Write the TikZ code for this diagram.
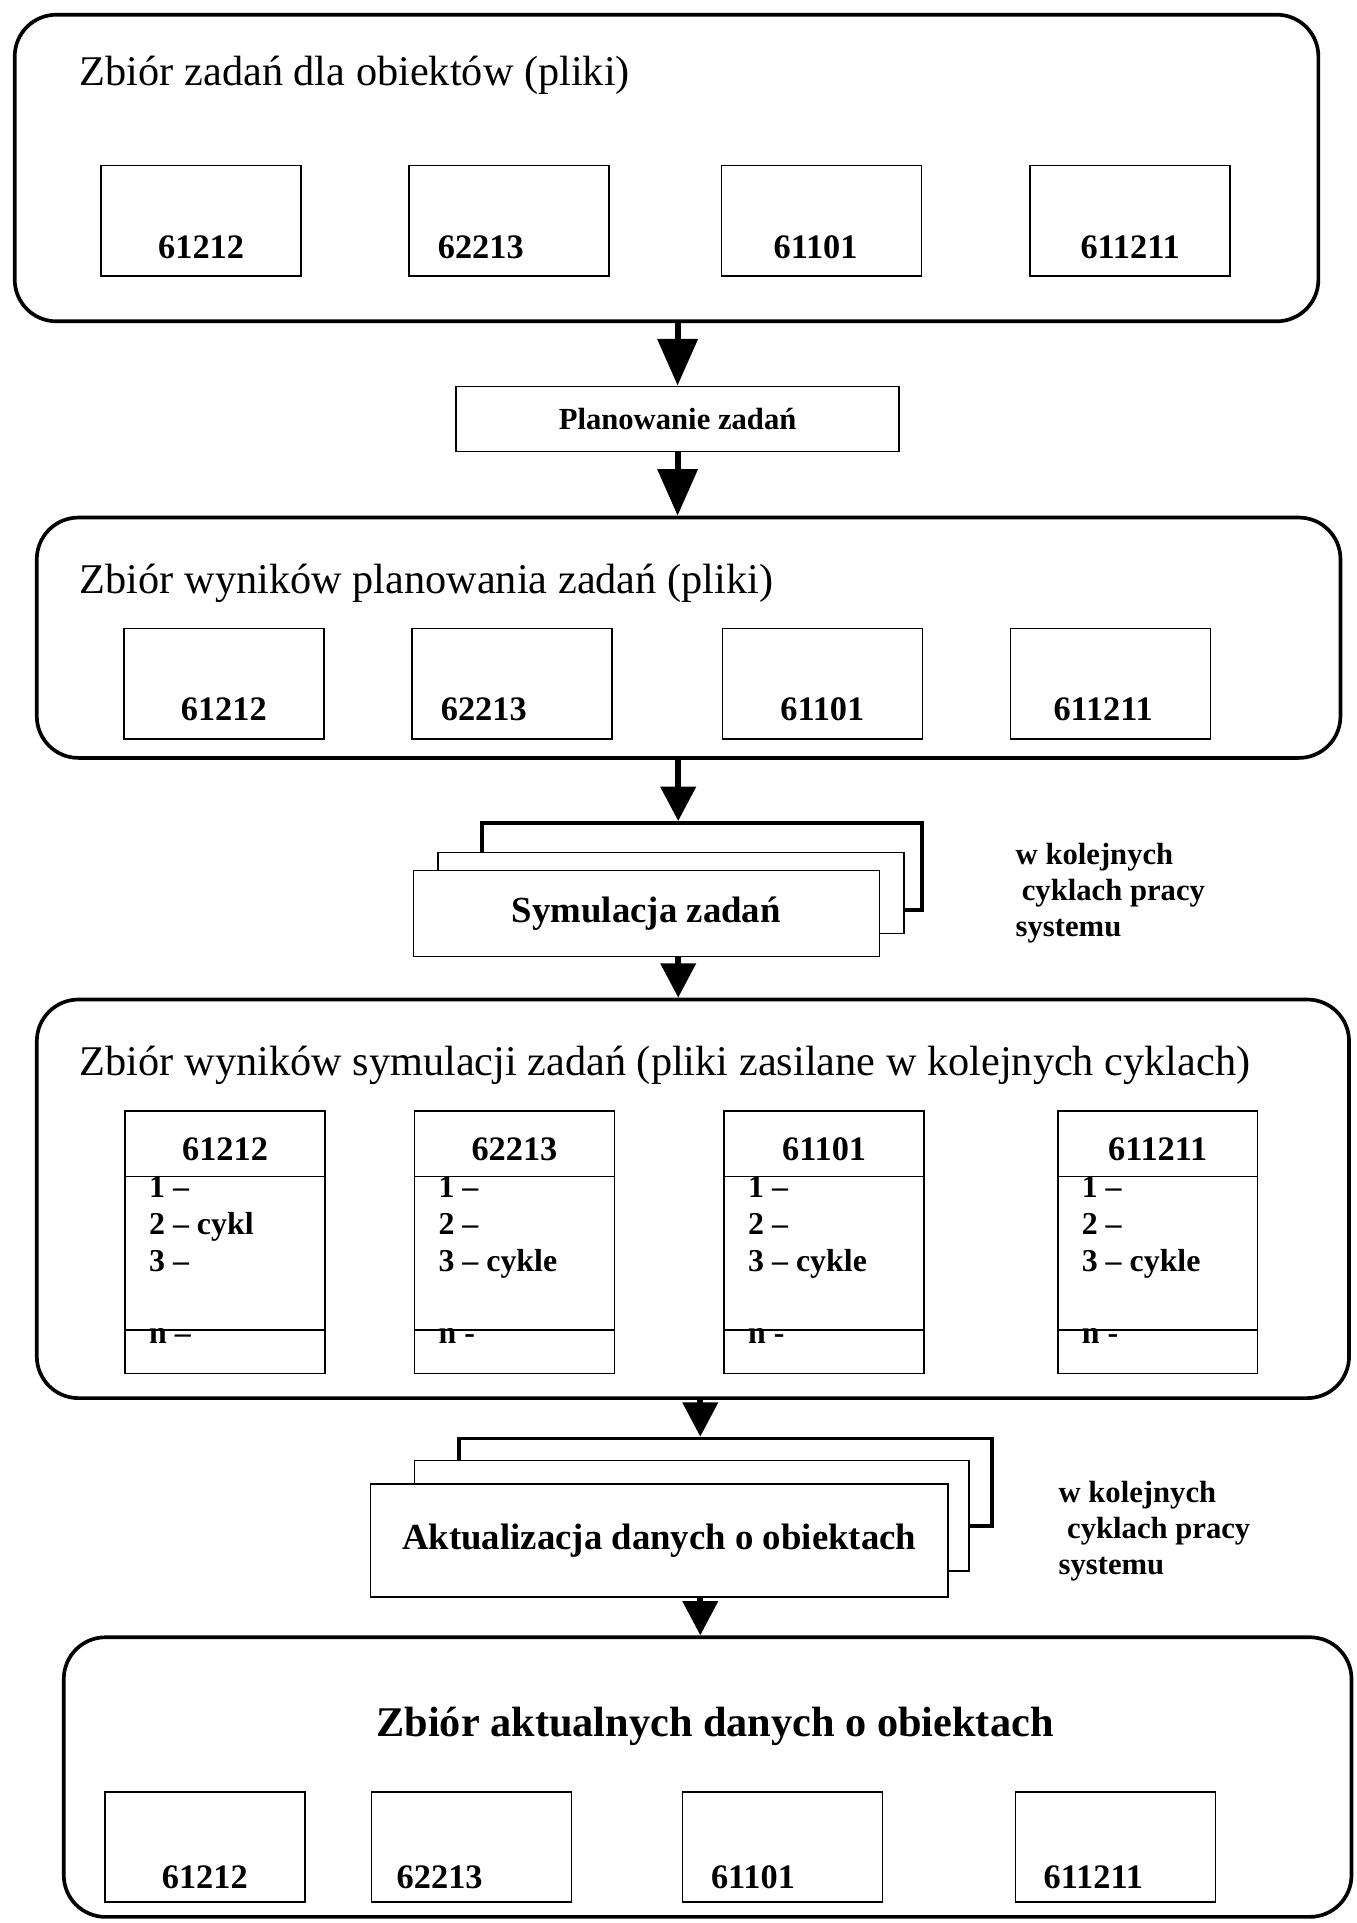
\documentclass[tikz,border=0pt]{standalone}
\usepackage{fontspec}
\setmainfont{Liberation Serif}
\usetikzlibrary{arrows.meta}

\begin{document}
\begin{tikzpicture}[
    x=1pt, y=-1pt,
    zbior/.style={
        rectangle,
        rounded corners=34pt,
        draw,
        line width=3pt,
        inner sep=0pt
    },
    plik/.style={
        rectangle,
        draw,
        line width=1.2pt,
        minimum width=163pt,
        minimum height=90pt,
        inner sep=0pt
    },
    karta/.style={
        rectangle,
        draw,
        line width=1.2pt,
        minimum width=163pt,
        minimum height=214pt,
        inner sep=0pt
    },
    etap/.style={
        rectangle,
        draw,
        line width=1.2pt,
        fill=white,
        inner sep=0pt
    },
    warstwa/.style={
        rectangle,
        draw,
        line width=3pt,
        fill=white,
        inner sep=0pt
    },
    numer/.style={font=\fontsize{28}{30}\selectfont\bfseries, inner sep=0pt, anchor=base},
    tytul/.style={font=\fontsize{34.5}{40}\selectfont, inner sep=0pt, anchor=base west},
    wiersze/.style={font=\fontsize{26}{30}\selectfont\bfseries, inner sep=0pt, anchor=base west, align=left},
    opis/.style={font=\fontsize{25}{29.5}\selectfont\bfseries, inner sep=0pt, anchor=base west, align=left},
    strzalka/.style={-{Triangle[width=32pt,length=38pt]}, line width=5pt},
    strzalkaMala/.style={-{Triangle[width=28pt,length=28pt]}, line width=5pt}
]
\useasboundingbox (0,0) rectangle (1106,1568);

% zbior zadan
\node[zbior, minimum width=1063pt, minimum height=250pt] (zad) at (543.5,137) {};
\node[tytul] (zadT) at (65,70) {Zbiór zadań dla obiektów (pliki)};
\node[plik] (z1) at (164,180) {};
\node[plik] (z2) at (415,180) {};
\node[plik] (z3) at (670,180) {};
\node[plik] (z4) at (921.5,180) {};
\node[numer] (z1n) at ([yshift=15pt]z1.south) {61212};
\node[numer] (z2n) at ([xshift=-23pt,yshift=15pt]z2.south) {62213};
\node[numer] (z3n) at ([xshift=-5pt,yshift=15pt]z3.south) {61101};
\node[numer] (z4n) at ([yshift=15pt]z4.south) {611211};

% planowanie
\node[etap, minimum width=361pt, minimum height=53pt, font=\fontsize{25}{28}\selectfont\bfseries] (plan) at (552.5,341.5) {Planowanie zadań};

% wyniki planowania
\node[zbior, minimum width=1063pt, minimum height=196pt] (wpl) at (561.5,520) {};
\node[tytul] (wplT) at (65,484) {Zbiór wyników planowania zadań (pliki)};
\node[plik] (p1) at (182.5,557.5) {};
\node[plik] (p2) at (417.5,557.5) {};
\node[plik] (p3) at (670.5,557.5) {};
\node[plik] (p4) at (905.5,557.5) {};
\node[numer] (p1n) at ([yshift=16pt]p1.south) {61212};
\node[numer] (p2n) at ([xshift=-23pt,yshift=16pt]p2.south) {62213};
\node[numer] (p3n) at ([yshift=16pt]p3.south) {61101};
\node[numer] (p4n) at ([xshift=-6pt,yshift=16pt]p4.south) {611211};

% symulacja (kolejne cykle)
\node[warstwa, minimum width=359pt, minimum height=71pt] (sym3) at (572.5,706.5) {};
\node[etap, minimum width=380pt, minimum height=66pt] (sym2) at (547,728) {};
\node[etap, minimum width=380pt, minimum height=70pt, font=\fontsize{30}{34}\selectfont\bfseries] (sym1) at (527,745) {Symulacja zadań};
\node[opis] (symOpis) at (828,764) {w kolejnych\\\hspace*{5pt}cyklach pracy\\systemu};

% wyniki symulacji
\node[zbior, minimum width=1070pt, minimum height=325pt] (wsym) at (565,977.5) {};
\node[tytul] (wsymT) at (65,877) {Zbiór wyników symulacji zadań (pliki zasilane w kolejnych cyklach)};
\node[karta] (k1) at (183.5,1013) {};
\node[karta] (k2) at (419.5,1013) {};
\node[karta] (k3) at (672,1013) {};
\node[karta] (k4) at (944,1013) {};
\draw[line width=1.2pt] (k1.north west) ++(0,54) -- ++(163,0) (k1.north west) ++(0,179) -- ++(163,0);
\draw[line width=1.2pt] (k2.north west) ++(0,54) -- ++(163,0) (k2.north west) ++(0,179) -- ++(163,0);
\draw[line width=1.2pt] (k3.north west) ++(0,54) -- ++(163,0) (k3.north west) ++(0,179) -- ++(163,0);
\draw[line width=1.2pt] (k4.north west) ++(0,54) -- ++(163,0) (k4.north west) ++(0,179) -- ++(163,0);
\node[numer] (k1n) at ([yshift=-41pt]k1.north) {61212};
\node[numer] (k2n) at ([yshift=-41pt]k2.north) {62213};
\node[numer] (k3n) at ([yshift=-41pt]k3.north) {61101};
\node[numer] (k4n) at ([yshift=-41pt]k4.north) {611211};
% kotwica base = linia bazowa ostatniego wiersza
\node[wiersze] (k1w) at ([xshift=20pt,yshift=-131pt]k1.north west) {1 –\\2 – cykl\\3 –};
\node[wiersze] (k2w) at ([xshift=20pt,yshift=-131pt]k2.north west) {1 –\\2 –\\3 – cykle};
\node[wiersze] (k3w) at ([xshift=20pt,yshift=-131pt]k3.north west) {1 –\\2 –\\3 – cykle};
\node[wiersze] (k4w) at ([xshift=20pt,yshift=-131pt]k4.north west) {1 –\\2 –\\3 – cykle};
\node[wiersze] (k1o) at ([xshift=20pt,yshift=-190pt]k1.north west) {n –};
\node[wiersze] (k2o) at ([xshift=20pt,yshift=-190pt]k2.north west) {n -};
\node[wiersze] (k3o) at ([xshift=20pt,yshift=-190pt]k3.north west) {n -};
\node[wiersze] (k4o) at ([xshift=20pt,yshift=-190pt]k4.north west) {n -};

% aktualizacja (kolejne cykle)
\node[warstwa, minimum width=435pt, minimum height=71pt] (akt3) at (591.5,1208.5) {};
\node[etap, minimum width=452pt, minimum height=90pt] (akt2) at (564,1236) {};
\node[etap, minimum width=471pt, minimum height=92pt, font=\fontsize{30}{34}\selectfont\bfseries] (akt1) at (537.5,1256) {Aktualizacja danych o obiektach};
\node[opis] (aktOpis) at (863,1284) {w kolejnych\\\hspace*{7pt}cyklach pracy\\systemu};

% aktualne dane
\node[zbior, minimum width=1050pt, minimum height=228pt] (wakt) at (577,1449) {};
\node[numer, font=\fontsize{34.5}{40}\selectfont\bfseries] (waktT) at (583,1416) {Zbiór aktualnych danych o obiektach};
\node[plik] (a1) at (167,1506) {};
\node[plik] (a2) at (384.5,1506) {};
\node[plik] (a3) at (638,1506) {};
\node[plik] (a4) at (909.5,1506) {};
\node[numer] (a1n) at ([yshift=12pt]a1.south) {61212};
\node[numer] (a2n) at ([xshift=-26pt,yshift=12pt]a2.south) {62213};
\node[numer] (a3n) at ([xshift=-24pt,yshift=12pt]a3.south) {61101};
\node[numer] (a4n) at ([xshift=-18pt,yshift=12pt]a4.south) {611211};

% strzalki
\coordinate (osSym) at (553,0);
\coordinate (osAkt) at (571,0);
\draw[strzalka] (plan.north |- zad.south) -- (plan.north);
\draw[strzalka] (plan.south) -- (plan.south |- wpl.north);
\draw[strzalkaMala] (osSym |- wpl.south) -- (osSym |- sym3.north);
\draw[strzalkaMala] (osSym |- sym1.south) -- (osSym |- wsym.north);
\draw[strzalkaMala] (osAkt |- wsym.south) -- (osAkt |- akt3.north);
\draw[strzalkaMala] (osAkt |- akt1.south) -- (osAkt |- wakt.north);

\end{tikzpicture}
\end{document}
